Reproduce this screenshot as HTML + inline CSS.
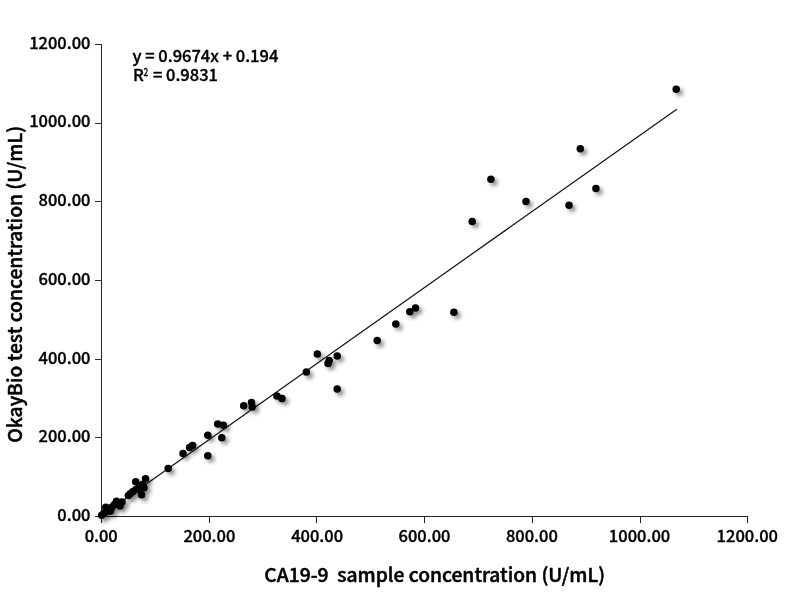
<!DOCTYPE html>
<html lang="en">
<head>
<meta charset="utf-8">
<title>CA19-9 correlation</title>
<style>
html,body{margin:0;padding:0;background:#fff;}
body{width:787px;height:600px;overflow:hidden;}
svg{display:block;}
text{font-family:"Noto Sans CJK SC","Liberation Sans",sans-serif;fill:#000;stroke:#000;stroke-width:0.35px;stroke-linejoin:round;}
.tick{font-size:16.5px;font-weight:500;}
.title{font-size:19.25px;font-weight:500;stroke-width:0.5px;}
.eq{font-size:16.5px;font-weight:500;}
</style>
</head>
<body>
<svg width="787" height="600" viewBox="0 0 787 600">
<defs>
<filter id="blur" x="-20%" y="-20%" width="140%" height="140%"><feGaussianBlur stdDeviation="1.9"/></filter>
</defs>
<rect width="787" height="600" fill="#fff"/>
<g stroke="#262626" stroke-width="1" fill="none" shape-rendering="crispEdges"><path d="M101.5 44.5V516.5H747.5"/><path d="M95 516.5H101.5"/><path d="M95 437.5H101.5"/><path d="M95 359.5H101.5"/><path d="M95 280.5H101.5"/><path d="M95 201.5H101.5"/><path d="M95 123.5H101.5"/><path d="M95 44.5H101.5"/><path d="M101.5 516.5V523"/><path d="M209.5 516.5V523"/><path d="M316.5 516.5V523"/><path d="M424.5 516.5V523"/><path d="M532.5 516.5V523"/><path d="M640.5 516.5V523"/><path d="M747.5 516.5V523"/></g>
<g class="tick" text-anchor="end"><text x="90.5" y="521">0.00</text><text x="90.5" y="442">200.00</text><text x="90.5" y="364">400.00</text><text x="90.5" y="285">600.00</text><text x="90.5" y="206">800.00</text><text x="90.5" y="127">1000.00</text><text x="90.5" y="49">1200.00</text></g>
<g class="tick" text-anchor="middle"><text x="101.2" y="542">0.00</text><text x="209.37" y="542">200.00</text><text x="317.13" y="542">400.00</text><text x="424.5" y="542">600.00</text><text x="531.87" y="542">800.00</text><text x="639.53" y="542">1000.00</text><text x="747.3" y="542">1200.00</text></g>
<text class="title" text-anchor="middle" x="434.7" y="581.8" xml:space="preserve">CA19-9  sample concentration (U/mL)</text>
<text class="title" text-anchor="middle" transform="translate(22 284.4) rotate(-90)">OkayBio test concentration (U/mL)</text>
<text class="eq" x="132.5" y="61.7">y = 0.9674x + 0.194</text>
<text class="eq" x="133" y="80.7">R</text>
<text class="eq" style="font-size:10.5px;stroke-width:0.3px" transform="translate(143.6 75.6) scale(0.8 1)">2</text>
<text class="eq" x="149.2" y="80.7" xml:space="preserve"> = 0.9831</text>
<g filter="url(#blur)" fill="#000" opacity="0.5" transform="translate(3.1 3.1)"><circle cx="676.2" cy="89.2" r="3.45"/><circle cx="580.3" cy="148.8" r="3.45"/><circle cx="490.9" cy="179.3" r="3.45"/><circle cx="595.9" cy="188.4" r="3.45"/><circle cx="526" cy="201.5" r="3.45"/><circle cx="569" cy="205.3" r="3.45"/><circle cx="472.2" cy="221.4" r="3.45"/><circle cx="453.9" cy="312.2" r="3.45"/><circle cx="415.5" cy="307.9" r="3.45"/><circle cx="409.8" cy="311.7" r="3.45"/><circle cx="395.8" cy="324" r="3.45"/><circle cx="377.2" cy="340.6" r="3.45"/><circle cx="337.2" cy="356" r="3.45"/><circle cx="329.2" cy="360.4" r="3.45"/><circle cx="328" cy="363.6" r="3.45"/><circle cx="317.3" cy="353.9" r="3.45"/><circle cx="337.2" cy="389.1" r="3.45"/><circle cx="306.4" cy="372.1" r="3.45"/><circle cx="276.9" cy="396.1" r="3.45"/><circle cx="282" cy="398.4" r="3.45"/><circle cx="251.5" cy="402.6" r="3.45"/><circle cx="252.2" cy="407" r="3.45"/><circle cx="243.7" cy="405.7" r="3.45"/><circle cx="217.7" cy="423.9" r="3.45"/><circle cx="223.4" cy="425.2" r="3.45"/><circle cx="221.8" cy="437.7" r="3.45"/><circle cx="207.8" cy="435.3" r="3.45"/><circle cx="207.8" cy="455.7" r="3.45"/><circle cx="189.6" cy="447.6" r="3.45"/><circle cx="192.6" cy="445.5" r="3.45"/><circle cx="183" cy="453.4" r="3.45"/><circle cx="168.2" cy="468.6" r="3.45"/><circle cx="135.7" cy="481.7" r="3.45"/><circle cx="145.5" cy="478.8" r="3.45"/><circle cx="141.5" cy="494.8" r="3.45"/><circle cx="144" cy="487.8" r="3.45"/><circle cx="142.5" cy="484.5" r="3.45"/><circle cx="128.4" cy="495.5" r="3.45"/><circle cx="130.5" cy="493.4" r="3.45"/><circle cx="133" cy="491.6" r="3.45"/><circle cx="136" cy="489.6" r="3.45"/><circle cx="139" cy="488" r="3.45"/><circle cx="101.7" cy="515.3" r="3.45"/><circle cx="104" cy="513" r="3.45"/><circle cx="107" cy="511.5" r="3.45"/><circle cx="105.8" cy="507.3" r="3.45"/><circle cx="109.5" cy="509" r="3.45"/><circle cx="112" cy="507" r="3.45"/><circle cx="114.5" cy="504.5" r="3.45"/><circle cx="116.5" cy="501.3" r="3.45"/><circle cx="122" cy="502" r="3.45"/><circle cx="120" cy="506" r="3.45"/><circle cx="118" cy="504" r="3.45"/><circle cx="110.5" cy="511" r="3.45"/></g>
<line x1="101.5" y1="515.7" x2="676.8" y2="109.3" stroke="#141414" stroke-width="1.25"/>
<g fill="#000"><circle cx="676.2" cy="89.2" r="3.75"/><circle cx="580.3" cy="148.8" r="3.75"/><circle cx="490.9" cy="179.3" r="3.75"/><circle cx="595.9" cy="188.4" r="3.75"/><circle cx="526" cy="201.5" r="3.75"/><circle cx="569" cy="205.3" r="3.75"/><circle cx="472.2" cy="221.4" r="3.75"/><circle cx="453.9" cy="312.2" r="3.75"/><circle cx="415.5" cy="307.9" r="3.75"/><circle cx="409.8" cy="311.7" r="3.75"/><circle cx="395.8" cy="324" r="3.75"/><circle cx="377.2" cy="340.6" r="3.75"/><circle cx="337.2" cy="356" r="3.75"/><circle cx="329.2" cy="360.4" r="3.75"/><circle cx="328" cy="363.6" r="3.75"/><circle cx="317.3" cy="353.9" r="3.75"/><circle cx="337.2" cy="389.1" r="3.75"/><circle cx="306.4" cy="372.1" r="3.75"/><circle cx="276.9" cy="396.1" r="3.75"/><circle cx="282" cy="398.4" r="3.75"/><circle cx="251.5" cy="402.6" r="3.75"/><circle cx="252.2" cy="407" r="3.75"/><circle cx="243.7" cy="405.7" r="3.75"/><circle cx="217.7" cy="423.9" r="3.75"/><circle cx="223.4" cy="425.2" r="3.75"/><circle cx="221.8" cy="437.7" r="3.75"/><circle cx="207.8" cy="435.3" r="3.75"/><circle cx="207.8" cy="455.7" r="3.75"/><circle cx="189.6" cy="447.6" r="3.75"/><circle cx="192.6" cy="445.5" r="3.75"/><circle cx="183" cy="453.4" r="3.75"/><circle cx="168.2" cy="468.6" r="3.75"/><circle cx="135.7" cy="481.7" r="3.75"/><circle cx="145.5" cy="478.8" r="3.75"/><circle cx="141.5" cy="494.8" r="3.75"/><circle cx="144" cy="487.8" r="3.75"/><circle cx="142.5" cy="484.5" r="3.75"/><circle cx="128.4" cy="495.5" r="3.75"/><circle cx="130.5" cy="493.4" r="3.75"/><circle cx="133" cy="491.6" r="3.75"/><circle cx="136" cy="489.6" r="3.75"/><circle cx="139" cy="488" r="3.75"/><circle cx="101.7" cy="515.3" r="3.75"/><circle cx="104" cy="513" r="3.75"/><circle cx="107" cy="511.5" r="3.75"/><circle cx="105.8" cy="507.3" r="3.75"/><circle cx="109.5" cy="509" r="3.75"/><circle cx="112" cy="507" r="3.75"/><circle cx="114.5" cy="504.5" r="3.75"/><circle cx="116.5" cy="501.3" r="3.75"/><circle cx="122" cy="502" r="3.75"/><circle cx="120" cy="506" r="3.75"/><circle cx="118" cy="504" r="3.75"/><circle cx="110.5" cy="511" r="3.75"/></g>
</svg>
</body>
</html>
